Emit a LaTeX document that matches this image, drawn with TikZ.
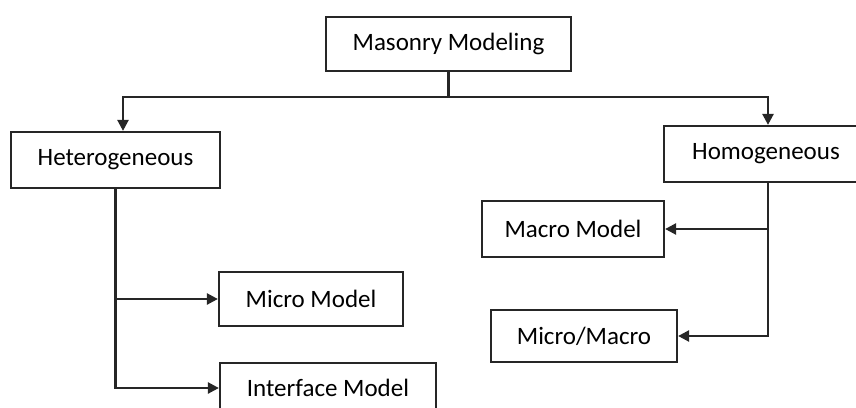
\documentclass[tikz,border=0pt]{standalone}
\usepackage{fontspec}
\setmainfont{Carlito}
\usetikzlibrary{arrows.meta}
\begin{document}
\begin{tikzpicture}[x=1pt,y=-1pt,
  box/.style={draw=black!85, line width=2.2pt, fill=white, inner sep=0pt, align=center,
    font=\fontsize{25}{29}\selectfont},
  conn/.style={draw=black!85, line width=2.4pt},
  arr/.style={conn, -{Triangle[length=11pt,width=11pt]}}]
\useasboundingbox (0,0) rectangle (856,407);
% nodes
\node[box, minimum width=245pt, minimum height=54pt] (top) at (448.5,44) {Masonry Modeling};
\node[box, minimum width=209pt, minimum height=56pt] (het) at (115.5,160) {Heterogeneous};
\node[box, minimum width=204pt, minimum height=56pt] (homo) at (766,154) {Homogeneous};
\node[box, minimum width=184pt, minimum height=54pt] (micro) at (311,299) {Micro Model};
\node[box, minimum width=216pt, minimum height=50pt] (iface) at (328,388) {Interface Model};
\node[box, minimum width=182pt, minimum height=56pt] (macro) at (573,229) {Macro Model};
\node[box, minimum width=186pt, minimum height=52pt] (mm) at (584,336) {Micro/Macro};
% connectors
\coordinate (j) at (top.south |- 0,97);
\draw[conn] (top.south) -- (j);
\draw[arr] (j) -| ([xshift=7.5pt]het.north);
\draw[arr] (j) -| ([xshift=2pt]homo.north);
\draw[arr] (het.south) |- (micro.west);
\draw[arr] (het.south) |- (iface.west);
\draw[arr] ([xshift=2pt]homo.south) |- (macro.east);
\draw[arr] ([xshift=2pt]homo.south) |- (mm.east);
\end{tikzpicture}
\end{document}
